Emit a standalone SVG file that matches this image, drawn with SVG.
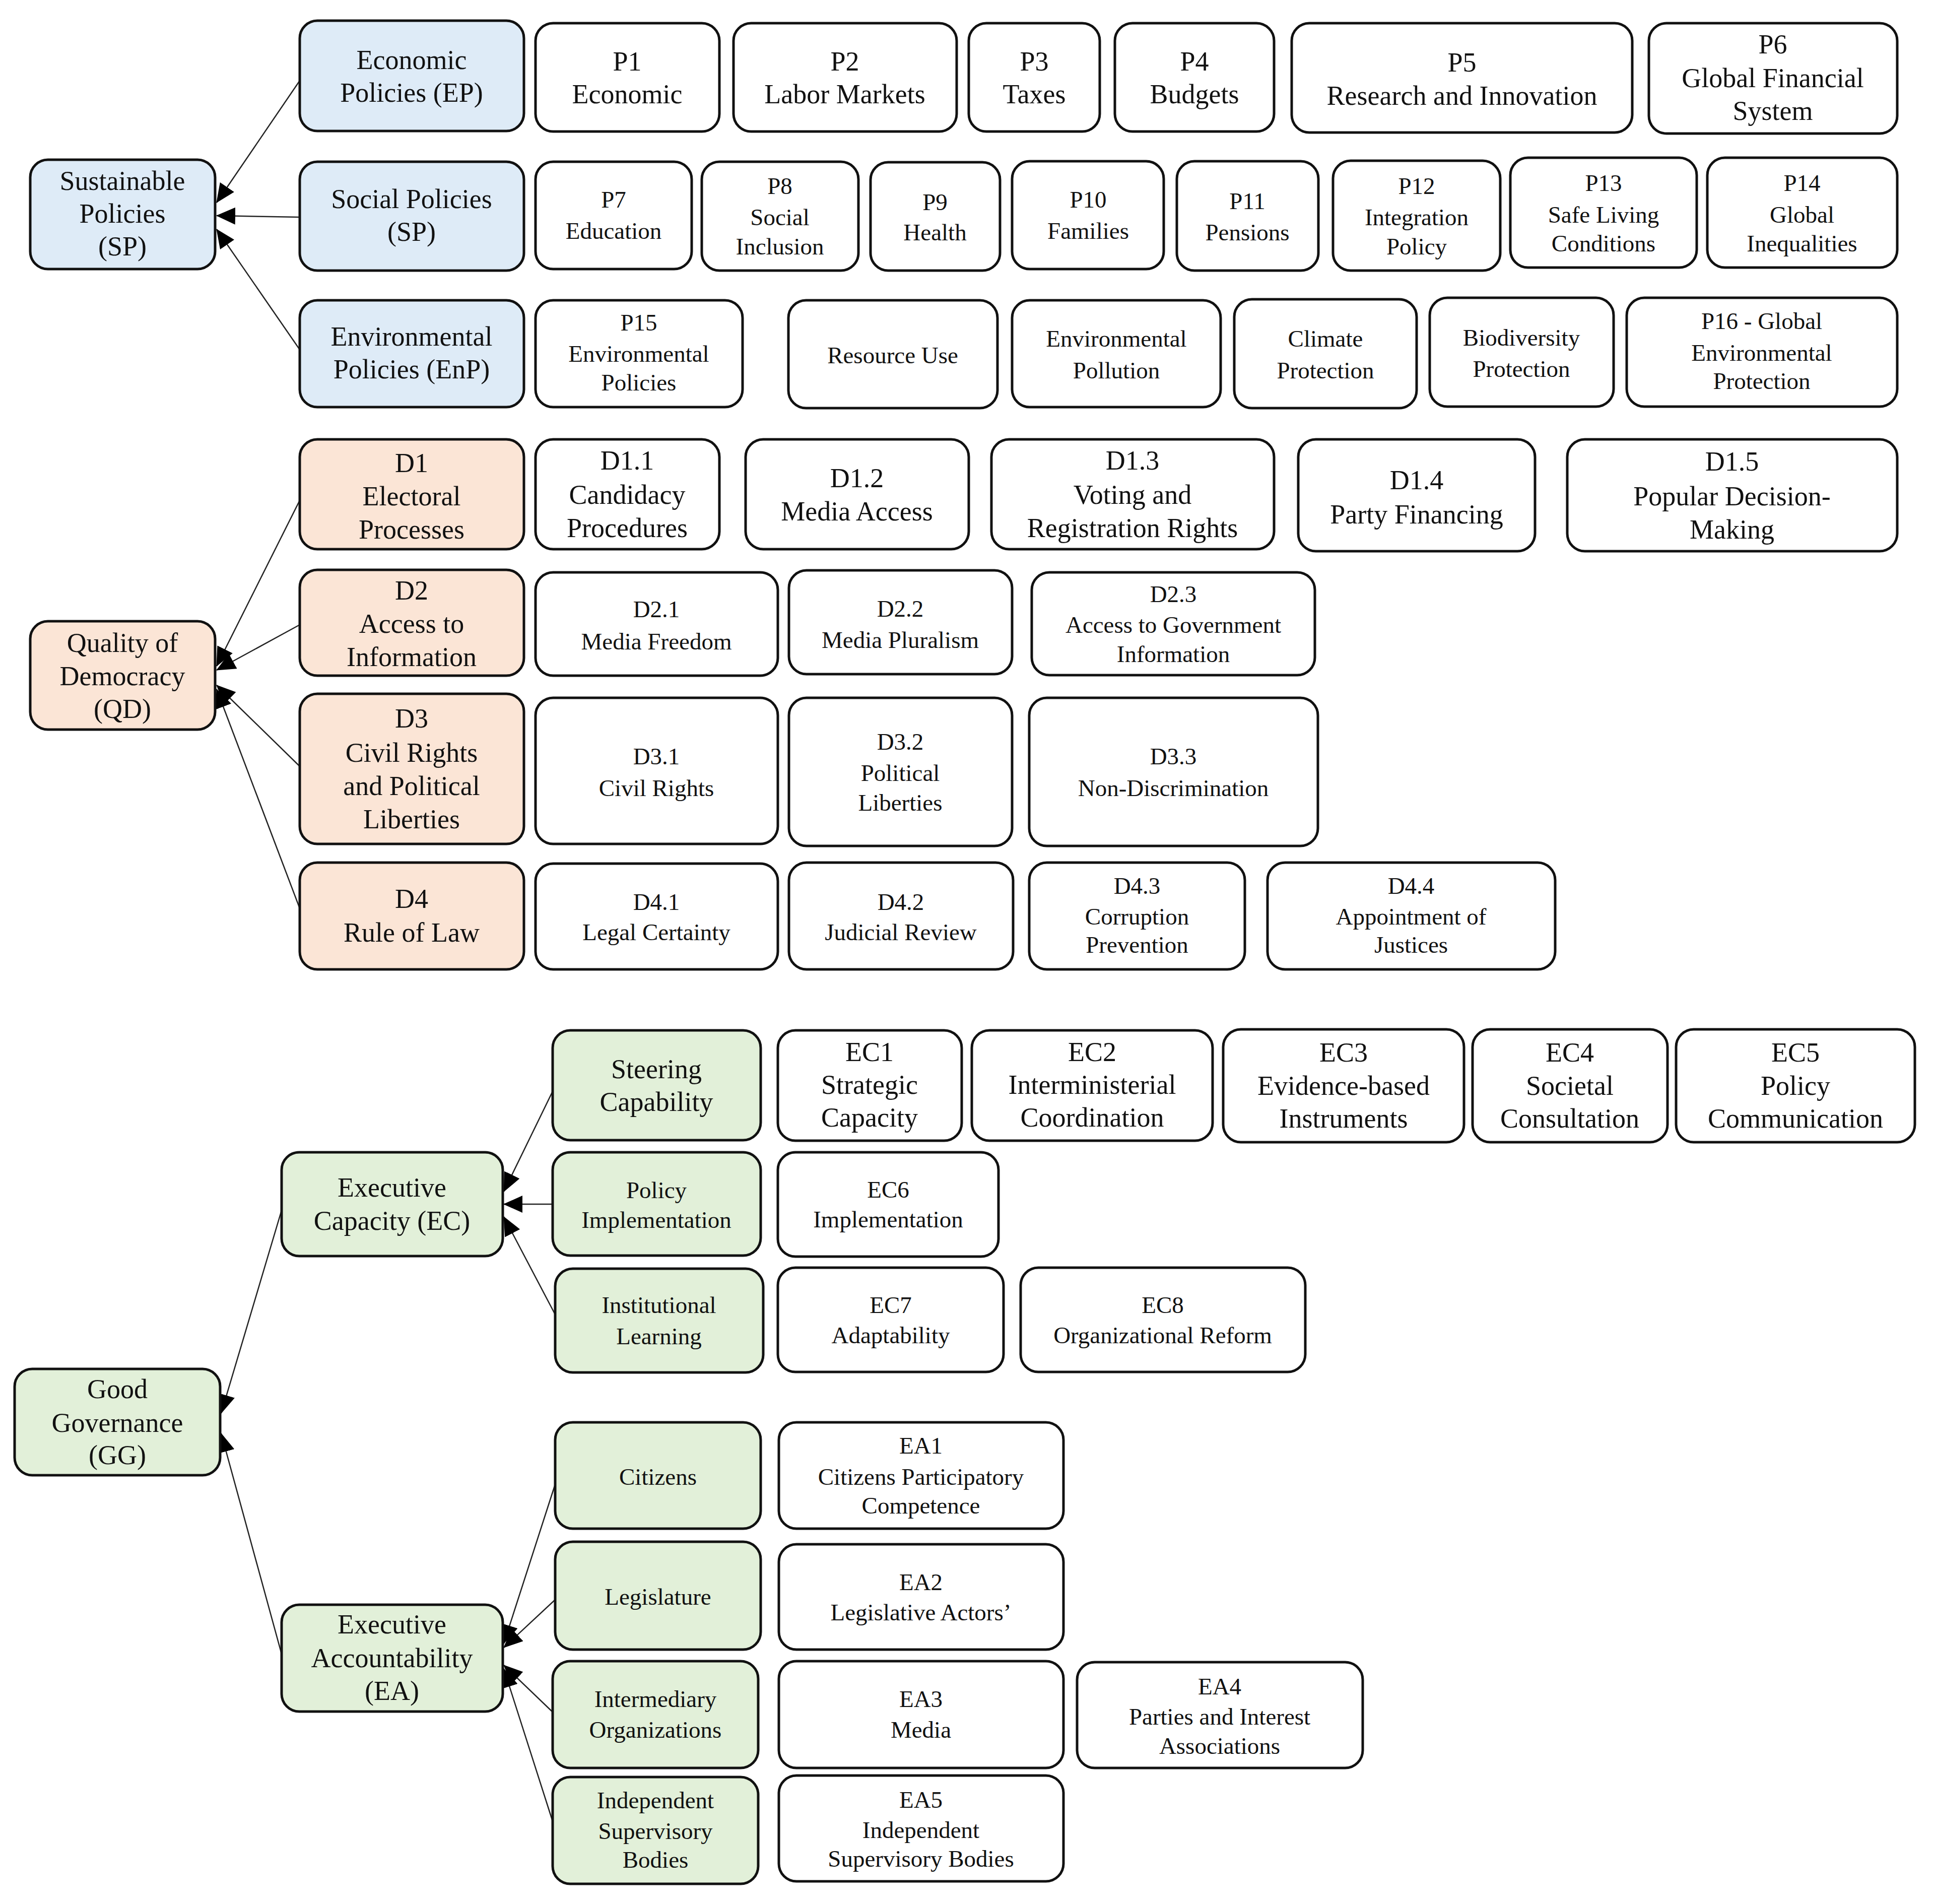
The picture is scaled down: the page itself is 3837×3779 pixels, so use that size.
<svg xmlns="http://www.w3.org/2000/svg" width="3837" height="3779" viewBox="0 0 3837 3779">
<defs>
<style>
rect{stroke:#111;stroke-width:5}
.w{fill:#fff}
.bl{fill:#DEEBF7}
.or{fill:#FBE5D6}
.gr{fill:#E2F0D9}
text{font-family:"Liberation Serif","Times New Roman",serif;fill:#111;text-anchor:middle}
.b{font-size:54px}
.s{font-size:47px}
.c line{stroke:#222;stroke-width:2.5;marker-end:url(#ah)}
</style>
<marker id="ah" markerUnits="userSpaceOnUse" markerWidth="38" markerHeight="34" refX="37" refY="17" orient="auto"><path d="M0,0 L38,17 L0,34 z" fill="#000"/></marker>
</defs>
<rect x="0" y="0" width="3837" height="3779" fill="#fff" style="stroke:none"/>

<g id="connectors" class="c">
<line x1="595" y1="160" x2="430" y2="402"/>
<line x1="595" y1="431" x2="430" y2="428"/>
<line x1="595" y1="694" x2="430" y2="455"/>
<line x1="595" y1="993" x2="430" y2="1322"/>
<line x1="595" y1="1240" x2="430" y2="1330"/>
<line x1="595" y1="1521" x2="430" y2="1360"/>
<line x1="595" y1="1803" x2="430" y2="1368"/>
<line x1="1097" y1="2166" x2="1000" y2="2365"/>
<line x1="1097" y1="2390" x2="1000" y2="2390"/>
<line x1="1102" y1="2609" x2="1000" y2="2415"/>
<line x1="559" y1="2402" x2="439" y2="2805"/>
<line x1="559" y1="3283" x2="439" y2="2845"/>
<line x1="1102" y1="2946" x2="1000" y2="3262"/>
<line x1="1102" y1="3175" x2="1000" y2="3270"/>
<line x1="1097" y1="3398" x2="1000" y2="3305"/>
<line x1="1097" y1="3615" x2="1000" y2="3312"/>
</g>

<!-- Sustainable Policies -->
<g id="SP-root"><rect class="bl" x="60" y="317" width="367" height="217" rx="35"/><text class="b"><tspan x="243" y="377">Sustainable</tspan><tspan x="243" y="442">Policies</tspan><tspan x="243" y="507">(SP)</tspan></text></g>
<g id="EP"><rect class="bl" x="595" y="41" width="445" height="219" rx="35"/><text class="b"><tspan x="817" y="137">Economic</tspan><tspan x="817" y="202">Policies (EP)</tspan></text></g>
<g id="SocP"><rect class="bl" x="595" y="321" width="445" height="216" rx="35"/><text class="b"><tspan x="817" y="413">Social Policies</tspan><tspan x="817" y="478">(SP)</tspan></text></g>
<g id="EnP"><rect class="bl" x="595" y="596" width="445" height="212" rx="35"/><text class="b"><tspan x="817" y="686">Environmental</tspan><tspan x="817" y="751">Policies (EnP)</tspan></text></g>

<g id="P1"><rect class="w" x="1063" y="46" width="365" height="215" rx="35"/><text class="b"><tspan x="1245" y="140">P1</tspan><tspan x="1245" y="205">Economic</tspan></text></g>
<g id="P2"><rect class="w" x="1456" y="46" width="443" height="215" rx="35"/><text class="b"><tspan x="1677" y="140">P2</tspan><tspan x="1677" y="205">Labor Markets</tspan></text></g>
<g id="P3"><rect class="w" x="1923" y="46" width="260" height="215" rx="35"/><text class="b"><tspan x="2053" y="140">P3</tspan><tspan x="2053" y="205">Taxes</tspan></text></g>
<g id="P4"><rect class="w" x="2213" y="46" width="316" height="215" rx="35"/><text class="b"><tspan x="2371" y="140">P4</tspan><tspan x="2371" y="205">Budgets</tspan></text></g>
<g id="P5"><rect class="w" x="2564" y="46" width="676" height="217" rx="35"/><text class="b"><tspan x="2902" y="142">P5</tspan><tspan x="2902" y="208">Research and Innovation</tspan></text></g>
<g id="P6"><rect class="w" x="3273" y="46" width="493" height="219" rx="35"/><text class="b"><tspan x="3519" y="106">P6</tspan><tspan x="3519" y="173">Global Financial</tspan><tspan x="3519" y="238">System</tspan></text></g>

<g id="P7"><rect class="w" x="1063" y="321" width="310" height="213" rx="35"/><text class="s"><tspan x="1218" y="412">P7</tspan><tspan x="1218" y="474">Education</tspan></text></g>
<g id="P8"><rect class="w" x="1393" y="321" width="311" height="216" rx="35"/><text class="s"><tspan x="1548" y="385">P8</tspan><tspan x="1548" y="447">Social</tspan><tspan x="1548" y="505">Inclusion</tspan></text></g>
<g id="P9"><rect class="w" x="1728" y="322" width="257" height="215" rx="35"/><text class="s"><tspan x="1856" y="417">P9</tspan><tspan x="1856" y="477">Health</tspan></text></g>
<g id="P10"><rect class="w" x="2009" y="320" width="301" height="214" rx="35"/><text class="s"><tspan x="2160" y="412">P10</tspan><tspan x="2160" y="474">Families</tspan></text></g>
<g id="P11"><rect class="w" x="2336" y="320" width="281" height="217" rx="35"/><text class="s"><tspan x="2476" y="415">P11</tspan><tspan x="2476" y="477">Pensions</tspan></text></g>
<g id="P12"><rect class="w" x="2646" y="319" width="332" height="218" rx="35"/><text class="s"><tspan x="2812" y="385">P12</tspan><tspan x="2812" y="447">Integration</tspan><tspan x="2812" y="505">Policy</tspan></text></g>
<g id="P13"><rect class="w" x="2998" y="313" width="370" height="218" rx="35"/><text class="s"><tspan x="3183" y="379">P13</tspan><tspan x="3183" y="442">Safe Living</tspan><tspan x="3183" y="499">Conditions</tspan></text></g>
<g id="P14"><rect class="w" x="3389" y="313" width="377" height="218" rx="35"/><text class="s"><tspan x="3577" y="379">P14</tspan><tspan x="3577" y="442">Global</tspan><tspan x="3577" y="499">Inequalities</tspan></text></g>

<g id="P15"><rect class="w" x="1063" y="596" width="411" height="212" rx="35"/><text class="s"><tspan x="1268" y="656">P15</tspan><tspan x="1268" y="718">Environmental</tspan><tspan x="1268" y="775">Policies</tspan></text></g>
<g id="ResourceUse"><rect class="w" x="1565" y="596" width="415" height="214" rx="35"/><text class="s"><tspan x="1772" y="721">Resource Use</tspan></text></g>
<g id="EnvPollution"><rect class="w" x="2009" y="596" width="414" height="212" rx="35"/><text class="s"><tspan x="2216" y="688">Environmental</tspan><tspan x="2216" y="751">Pollution</tspan></text></g>
<g id="Climate"><rect class="w" x="2450" y="594" width="362" height="216" rx="35"/><text class="s"><tspan x="2631" y="688">Climate</tspan><tspan x="2631" y="751">Protection</tspan></text></g>
<g id="Biodiversity"><rect class="w" x="2838" y="591" width="365" height="216" rx="35"/><text class="s"><tspan x="3020" y="686">Biodiversity</tspan><tspan x="3020" y="748">Protection</tspan></text></g>
<g id="P16"><rect class="w" x="3229" y="591" width="537" height="216" rx="35"/><text class="s"><tspan x="3497" y="653">P16 - Global</tspan><tspan x="3497" y="716">Environmental</tspan><tspan x="3497" y="772">Protection</tspan></text></g>

<!-- Quality of Democracy -->
<g id="QD-root"><rect class="or" x="60" y="1233" width="367" height="215" rx="35"/><text class="b"><tspan x="243" y="1294">Quality of</tspan><tspan x="243" y="1360">Democracy</tspan><tspan x="243" y="1425">(QD)</tspan></text></g>
<g id="D1"><rect class="or" x="595" y="872" width="445" height="218" rx="35"/><text class="b"><tspan x="817" y="937">D1</tspan><tspan x="817" y="1003">Electoral</tspan><tspan x="817" y="1069">Processes</tspan></text></g>
<g id="D2"><rect class="or" x="595" y="1131" width="445" height="210" rx="35"/><text class="b"><tspan x="817" y="1190">D2</tspan><tspan x="817" y="1256">Access to</tspan><tspan x="817" y="1322">Information</tspan></text></g>
<g id="D3"><rect class="or" x="595" y="1377" width="445" height="298" rx="35"/><text class="b"><tspan x="817" y="1444">D3</tspan><tspan x="817" y="1512">Civil Rights</tspan><tspan x="817" y="1578">and Political</tspan><tspan x="817" y="1644">Liberties</tspan></text></g>
<g id="D4"><rect class="or" x="595" y="1712" width="445" height="212" rx="35"/><text class="b"><tspan x="817" y="1802">D4</tspan><tspan x="817" y="1869">Rule of Law</tspan></text></g>

<g id="D1.1"><rect class="w" x="1063" y="872" width="365" height="218" rx="35"/><text class="b"><tspan x="1245" y="932">D1.1</tspan><tspan x="1245" y="1000">Candidacy</tspan><tspan x="1245" y="1066">Procedures</tspan></text></g>
<g id="D1.2"><rect class="w" x="1480" y="872" width="443" height="218" rx="35"/><text class="b"><tspan x="1701" y="967">D1.2</tspan><tspan x="1701" y="1033">Media Access</tspan></text></g>
<g id="D1.3"><rect class="w" x="1968" y="872" width="561" height="218" rx="35"/><text class="b"><tspan x="2248" y="932">D1.3</tspan><tspan x="2248" y="1000">Voting and</tspan><tspan x="2248" y="1066">Registration Rights</tspan></text></g>
<g id="D1.4"><rect class="w" x="2577" y="872" width="470" height="222" rx="35"/><text class="b"><tspan x="2812" y="971">D1.4</tspan><tspan x="2812" y="1039">Party Financing</tspan></text></g>
<g id="D1.5"><rect class="w" x="3111" y="872" width="655" height="222" rx="35"/><text class="b"><tspan x="3438" y="934">D1.5</tspan><tspan x="3438" y="1003">Popular Decision-</tspan><tspan x="3438" y="1069">Making</tspan></text></g>

<g id="D2.1"><rect class="w" x="1063" y="1136" width="481" height="205" rx="35"/><text class="s"><tspan x="1303" y="1225">D2.1</tspan><tspan x="1303" y="1289">Media Freedom</tspan></text></g>
<g id="D2.2"><rect class="w" x="1566" y="1132" width="443" height="206" rx="35"/><text class="s"><tspan x="1787" y="1224">D2.2</tspan><tspan x="1787" y="1286">Media Pluralism</tspan></text></g>
<g id="D2.3"><rect class="w" x="2048" y="1136" width="562" height="204" rx="35"/><text class="s"><tspan x="2329" y="1195">D2.3</tspan><tspan x="2329" y="1256">Access to Government</tspan><tspan x="2329" y="1314">Information</tspan></text></g>

<g id="D3.1"><rect class="w" x="1063" y="1385" width="481" height="290" rx="35"/><text class="s"><tspan x="1303" y="1517">D3.1</tspan><tspan x="1303" y="1580">Civil Rights</tspan></text></g>
<g id="D3.2"><rect class="w" x="1566" y="1385" width="443" height="294" rx="35"/><text class="s"><tspan x="1787" y="1488">D3.2</tspan><tspan x="1787" y="1550">Political</tspan><tspan x="1787" y="1609">Liberties</tspan></text></g>
<g id="D3.3"><rect class="w" x="2043" y="1385" width="573" height="294" rx="35"/><text class="s"><tspan x="2329" y="1517">D3.3</tspan><tspan x="2329" y="1580">Non-Discrimination</tspan></text></g>

<g id="D4.1"><rect class="w" x="1063" y="1714" width="481" height="210" rx="35"/><text class="s"><tspan x="1303" y="1806">D4.1</tspan><tspan x="1303" y="1866">Legal Certainty</tspan></text></g>
<g id="D4.2"><rect class="w" x="1566" y="1712" width="445" height="212" rx="35"/><text class="s"><tspan x="1788" y="1806">D4.2</tspan><tspan x="1788" y="1866">Judicial Review</tspan></text></g>
<g id="D4.3"><rect class="w" x="2043" y="1712" width="428" height="212" rx="35"/><text class="s"><tspan x="2257" y="1774">D4.3</tspan><tspan x="2257" y="1835">Corruption</tspan><tspan x="2257" y="1891">Prevention</tspan></text></g>
<g id="D4.4"><rect class="w" x="2516" y="1712" width="571" height="212" rx="35"/><text class="s"><tspan x="2801" y="1774">D4.4</tspan><tspan x="2801" y="1835">Appointment of</tspan><tspan x="2801" y="1891">Justices</tspan></text></g>

<!-- Good Governance -->
<g id="GG-root"><rect class="gr" x="29" y="2717" width="408" height="211" rx="35"/><text class="b"><tspan x="233" y="2775">Good</tspan><tspan x="233" y="2842">Governance</tspan><tspan x="233" y="2906">(GG)</tspan></text></g>
<g id="EC"><rect class="gr" x="559" y="2287" width="439" height="206" rx="35"/><text class="b"><tspan x="778" y="2375">Executive</tspan><tspan x="778" y="2441">Capacity (EC)</tspan></text></g>
<g id="EA"><rect class="gr" x="559" y="3185" width="439" height="212" rx="35"/><text class="b"><tspan x="778" y="3242">Executive</tspan><tspan x="778" y="3309">Accountability</tspan><tspan x="778" y="3374">(EA)</tspan></text></g>

<g id="Steering"><rect class="gr" x="1097" y="2045" width="413" height="218" rx="35"/><text class="b"><tspan x="1303" y="2140">Steering</tspan><tspan x="1303" y="2205">Capability</tspan></text></g>
<g id="PolicyImpl"><rect class="gr" x="1097" y="2287" width="413" height="205" rx="35"/><text class="s"><tspan x="1303" y="2378">Policy</tspan><tspan x="1303" y="2437">Implementation</tspan></text></g>
<g id="InstLearning"><rect class="gr" x="1102" y="2518" width="413" height="206" rx="35"/><text class="s"><tspan x="1308" y="2606">Institutional</tspan><tspan x="1308" y="2668">Learning</tspan></text></g>
<g id="Citizens"><rect class="gr" x="1102" y="2823" width="408" height="211" rx="35"/><text class="s"><tspan x="1306" y="2947">Citizens</tspan></text></g>
<g id="Legislature"><rect class="gr" x="1102" y="3060" width="408" height="214" rx="35"/><text class="s"><tspan x="1306" y="3185">Legislature</tspan></text></g>
<g id="Intermediary"><rect class="gr" x="1097" y="3297" width="408" height="212" rx="35"/><text class="s"><tspan x="1301" y="3388">Intermediary</tspan><tspan x="1301" y="3449">Organizations</tspan></text></g>
<g id="IndepBodies"><rect class="gr" x="1097" y="3527" width="408" height="212" rx="35"/><text class="s"><tspan x="1301" y="3589">Independent</tspan><tspan x="1301" y="3650">Supervisory</tspan><tspan x="1301" y="3707">Bodies</tspan></text></g>

<g id="EC1"><rect class="w" x="1544" y="2045" width="365" height="219" rx="35"/><text class="b"><tspan x="1726" y="2106">EC1</tspan><tspan x="1726" y="2171">Strategic</tspan><tspan x="1726" y="2236">Capacity</tspan></text></g>
<g id="EC2"><rect class="w" x="1929" y="2045" width="478" height="219" rx="35"/><text class="b"><tspan x="2168" y="2106">EC2</tspan><tspan x="2168" y="2171">Interministerial</tspan><tspan x="2168" y="2236">Coordination</tspan></text></g>
<g id="EC3"><rect class="w" x="2428" y="2043" width="478" height="224" rx="35"/><text class="b"><tspan x="2667" y="2107">EC3</tspan><tspan x="2667" y="2173">Evidence-based</tspan><tspan x="2667" y="2238">Instruments</tspan></text></g>
<g id="EC4"><rect class="w" x="2923" y="2043" width="387" height="224" rx="35"/><text class="b"><tspan x="3116" y="2107">EC4</tspan><tspan x="3116" y="2173">Societal</tspan><tspan x="3116" y="2238">Consultation</tspan></text></g>
<g id="EC5"><rect class="w" x="3327" y="2043" width="474" height="224" rx="35"/><text class="b"><tspan x="3564" y="2107">EC5</tspan><tspan x="3564" y="2173">Policy</tspan><tspan x="3564" y="2238">Communication</tspan></text></g>
<g id="EC6"><rect class="w" x="1544" y="2287" width="438" height="207" rx="35"/><text class="s"><tspan x="1763" y="2377">EC6</tspan><tspan x="1763" y="2436">Implementation</tspan></text></g>
<g id="EC7"><rect class="w" x="1544" y="2516" width="448" height="207" rx="35"/><text class="s"><tspan x="1768" y="2606">EC7</tspan><tspan x="1768" y="2666">Adaptability</tspan></text></g>
<g id="EC8"><rect class="w" x="2026" y="2516" width="565" height="207" rx="35"/><text class="s"><tspan x="2308" y="2606">EC8</tspan><tspan x="2308" y="2666">Organizational Reform</tspan></text></g>

<g id="EA1"><rect class="w" x="1546" y="2823" width="565" height="211" rx="35"/><text class="s"><tspan x="1828" y="2885">EA1</tspan><tspan x="1828" y="2947">Citizens Participatory</tspan><tspan x="1828" y="3004">Competence</tspan></text></g>
<g id="EA2"><rect class="w" x="1546" y="3065" width="565" height="209" rx="35"/><text class="s"><tspan x="1828" y="3156">EA2</tspan><tspan x="1828" y="3216">Legislative Actors’</tspan></text></g>
<g id="EA3"><rect class="w" x="1546" y="3297" width="565" height="212" rx="35"/><text class="s"><tspan x="1828" y="3388">EA3</tspan><tspan x="1828" y="3449">Media</tspan></text></g>
<g id="EA4"><rect class="w" x="2138" y="3299" width="567" height="210" rx="35"/><text class="s"><tspan x="2421" y="3363">EA4</tspan><tspan x="2421" y="3423">Parties and Interest</tspan><tspan x="2421" y="3481">Associations</tspan></text></g>
<g id="EA5"><rect class="w" x="1546" y="3524" width="565" height="210" rx="35"/><text class="s"><tspan x="1828" y="3588">EA5</tspan><tspan x="1828" y="3648">Independent</tspan><tspan x="1828" y="3705">Supervisory Bodies</tspan></text></g>
</svg>
